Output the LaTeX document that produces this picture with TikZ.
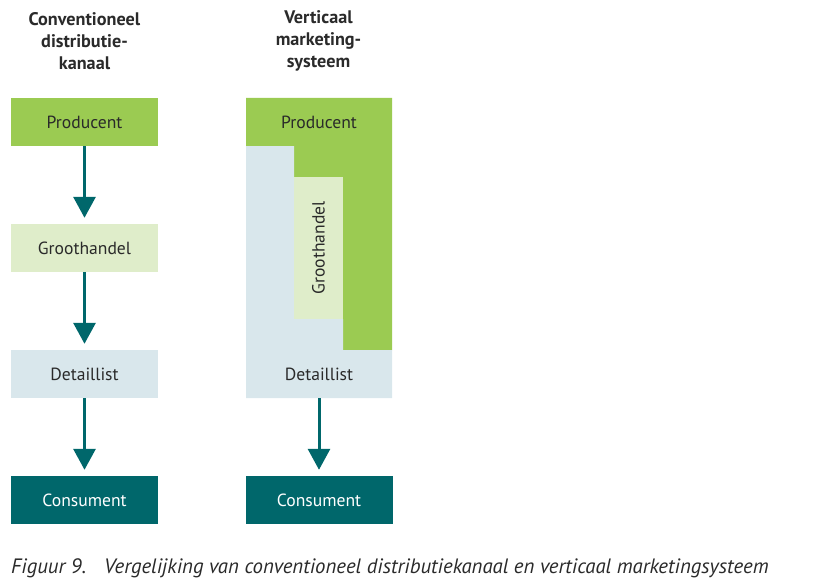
\documentclass[tikz,border=0pt]{standalone}
\usepackage{fontspec}
\setmainfont{PT Sans}
\usetikzlibrary{arrows.meta}
\definecolor{prodgreen}{HTML}{9BCB52}
\definecolor{palegreen}{HTML}{DFEDCA}
\definecolor{paleblue}{HTML}{D9E7EC}
\definecolor{teal}{HTML}{00676B}
\definecolor{txt}{HTML}{2A2A2A}
\tikzset{
  box/.style={minimum width=147pt, minimum height=48pt, inner sep=0pt, text=txt, font=\fontsize{17.6}{20}\selectfont},
  head/.style={align=center, text=txt, font=\bfseries\fontsize{18.2}{22}\selectfont},
  flow/.style={draw=teal, line width=3pt, -{Triangle[width=22pt,length=21pt]}, shorten >=6pt}
}
\begin{document}
\begin{tikzpicture}[x=1pt,y=-1pt]
\useasboundingbox (0,0) rectangle (825,586);
% headers
\node[head] (h1) at (84.5,41) {Conventioneel\\distributie-\\kanaal};
\node[head] (h2) at (318.5,41) {Verticaal\\marketing-\\systeem};
% left column
\node[box, fill=prodgreen] (p1) at (84.5,122) {Producent};
\node[box, fill=palegreen] (g1) at (84.5,248) {Groothandel};
\node[box, fill=paleblue] (d1) at (84.5,374) {Detaillist};
\node[box, fill=teal, text=white] (c1) at (84.5,500) {Consument};
\draw[flow] (p1.south) -- (g1.north);
\draw[flow] (g1.south) -- (d1.north);
\draw[flow] (d1.south) -- (c1.north);
% right column shapes
\fill[prodgreen] (246,98) -- (392,98) -- (392,350) -- (343,350) -- (343,177) -- (294,177) -- (294,146) -- (246,146) -- cycle;
\fill[paleblue] (246,146) -- (294,146) -- (294,319) -- (343,319) -- (343,350) -- (392,350) -- (392,398) -- (246,398) -- cycle;
\fill[palegreen] (294,177) rectangle (343,319);
\node[box] (p2) at (319,122) {Producent};
\node[box, rotate=90, minimum width=142pt, minimum height=49pt] (g2) at (318.5,248) {Groothandel};
\node[box] (d2) at (319,374) {Detaillist};
\node[box, fill=teal, text=white] (c2) at (319,500) {Consument};
\draw[flow] (d2.south) -- (c2.north);
% caption
\node[anchor=base west, text=txt, font=\itshape\fontsize{20.8}{22}\selectfont, inner sep=0pt] (cap) at (11,573) {Figuur 9.\hspace{18pt}Vergelijking van conventioneel distributiekanaal en verticaal marketingsysteem};
\end{tikzpicture}
\end{document}
